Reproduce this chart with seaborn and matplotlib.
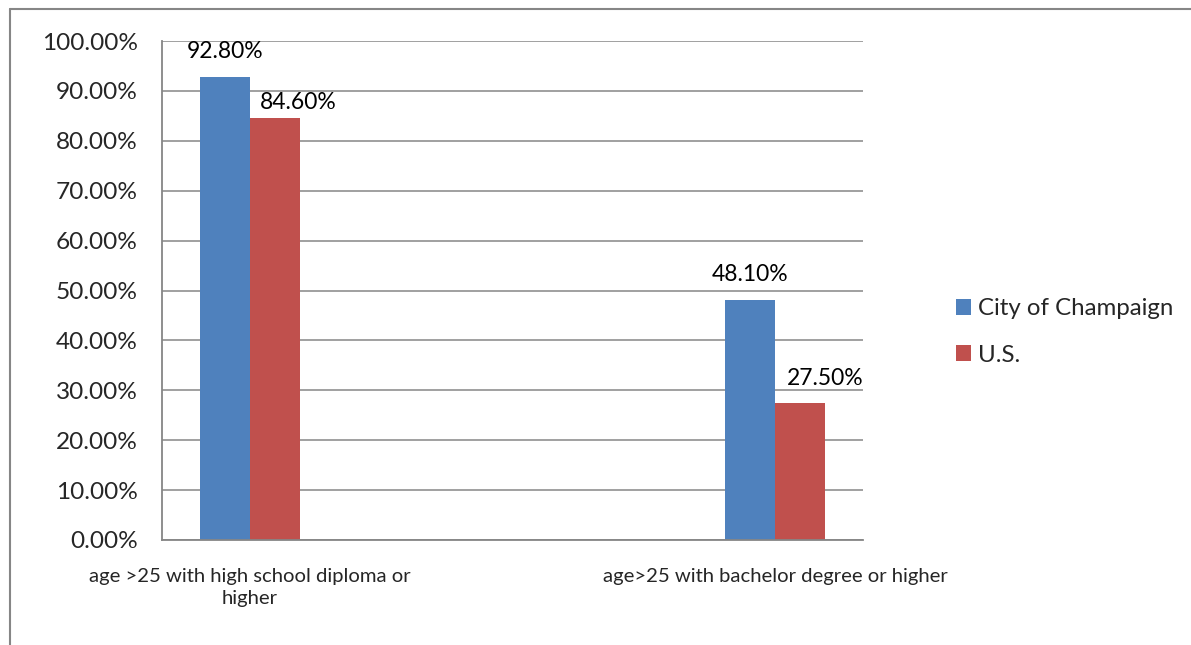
import matplotlib
matplotlib.use("Agg")
import matplotlib.pyplot as plt
import matplotlib.ticker as mticker
from matplotlib.lines import Line2D
from matplotlib.patches import Patch
import pandas as pd
import seaborn as sns

# Educational attainment, City of Champaign vs. U.S.
categories = ["age >25 with high school diploma or higher",
              "age>25 with bachelor degree or higher"]
category_labels = ["age >25 with high school diploma or\nhigher",
                   "age>25 with bachelor degree or higher"]
# two unused category slots sit between the filled ones on the axis
axis_order = [categories[0], " ", "  ", categories[1]]
axis_labels = [category_labels[0], "", "", category_labels[1]]

series = ["City of Champaign", "U.S."]
champaign = [0.928, 0.481]
us = [0.846, 0.275]
colors = ["#4F81BD", "#C0504D"]
y_ticks = [i / 10 for i in range(11)]

df = pd.DataFrame({
    "category": categories * 2,
    "series": [series[0]] * 2 + [series[1]] * 2,
    "value": champaign + us,
})

sns.set_style("white")
plt.rcParams["font.family"] = ["Lato", "DejaVu Sans"]

grid_col = "#868686"
fig = plt.figure(figsize=(11.91, 6.45), dpi=100)
ax = fig.add_axes([162 / 1191, 1 - 540 / 645, (863 - 162) / 1191, (540 - 41) / 645])

sns.barplot(data=df, x="category", y="value", hue="series", order=axis_order,
            hue_order=series, palette=colors, width=2 / 3.5, gap=0,
            saturation=1, errorbar=None, ax=ax, legend=False, zorder=3)

for patch in ax.patches:
    patch.set_edgecolor("none")

# value labels above each bar; U.S. labels are nudged to the right
label_offsets = [
    [(0, 10.5), (0, 10.5)],     # City of Champaign
    [(17, 3.5), (17.5, 10)],    # U.S.
]
for container, offsets in zip(ax.containers, label_offsets):
    bars = [b for b in container if b.get_height() == b.get_height() and b.get_height() > 0]
    for bar, (dx, dy) in zip(bars, offsets):
        h = bar.get_height()
        ax.annotate(f"{h:.2%}", (bar.get_x() + bar.get_width() / 2, h),
                    xytext=(dx, dy), textcoords="offset points",
                    ha="center", va="bottom", fontsize=16.5, color="black",
                    zorder=5)

ax.set_ylim(0, 1)
ax.set_yticks(y_ticks)
ax.yaxis.set_major_formatter(mticker.FuncFormatter(lambda v, _: f"{v:.2%}"))
ax.set_xlim(-0.5, len(axis_order) - 0.5)
ax.set_xticks([i - 0.5 for i in range(len(axis_order) + 1)])
ax.set_xticklabels([])
ax.set_xticks(range(len(axis_order)), labels=axis_labels, minor=True)
for lab in ax.get_xticklabels(minor=True):
    lab.set_linespacing(1.4)
ax.tick_params(axis="x", which="minor", length=0, pad=20, labelsize=14.6)
ax.tick_params(axis="x", which="major", length=7, width=1.3, color=grid_col, direction="out")
ax.tick_params(axis="y", length=7, width=1.3, color=grid_col, direction="out",
               labelsize=17.6, pad=10.5)
ax.set_xlabel("")
ax.set_ylabel("")

ax.grid(axis="y", color=grid_col, linewidth=1.1, zorder=0)
ax.set_axisbelow(True)
for side in ["top", "right"]:
    ax.spines[side].set_visible(False)
for side in ["left", "bottom"]:
    ax.spines[side].set_color(grid_col)
    ax.spines[side].set_linewidth(1.3)
    ax.spines[side].set_zorder(4)

handles = [Patch(facecolor=c, edgecolor="none") for c in colors]
fig.legend(handles, series, loc="center left",
           bbox_to_anchor=(946 / 1191, 1 - 332 / 645), frameon=False,
           fontsize=17.3, handlelength=0.65, handleheight=0.65,
           handletextpad=0.3, labelspacing=1.05, borderaxespad=0)

# outer chart frame
fig.add_artist(Line2D([10 / 1191, 10 / 1191], [0, 1 - 9 / 645],
                      transform=fig.transFigure, color=grid_col, linewidth=1.5))
fig.add_artist(Line2D([10 / 1191, 1], [1 - 9 / 645, 1 - 9 / 645],
                      transform=fig.transFigure, color=grid_col, linewidth=1.5))

fig.savefig("out.png", dpi=100)
